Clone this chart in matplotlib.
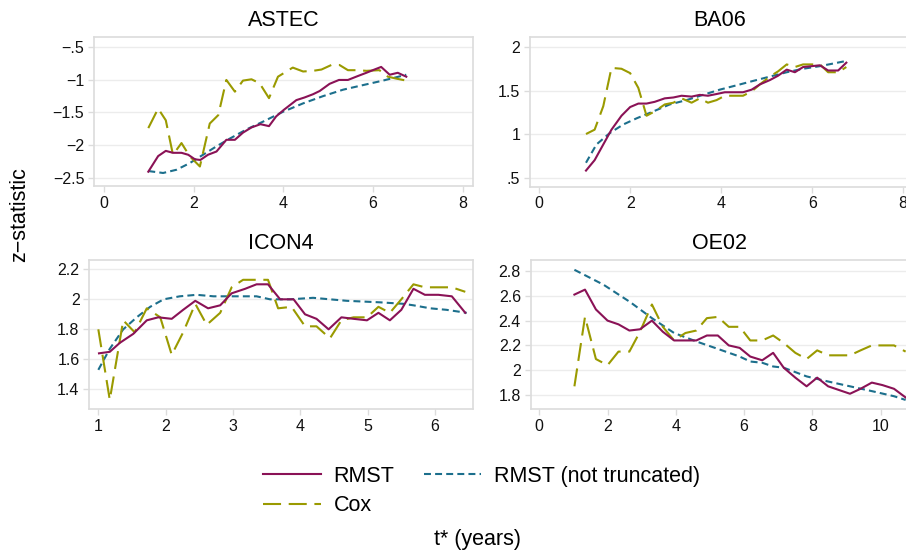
import numpy as np
import matplotlib
matplotlib.use("Agg")
import matplotlib.pyplot as plt
from matplotlib.lines import Line2D

plt.rcParams['font.family'] = ['Liberation Sans', 'DejaVu Sans']
plt.rcParams['lines.scale_dashes'] = False

# cores das series
c_rmst = '#8a1256'
c_cox = '#9a9a00'
c_full = '#1c6f8c'
c_frame = '#dcdcdc'

# ---------------- dados ----------------
# ASTEC
astec_rmst_t = [0.99, 1.21, 1.38, 1.54, 1.73, 1.88, 2.03, 2.15, 2.32, 2.51, 2.73, 2.92, 3.10, 3.29,
                3.49, 3.68, 3.84, 4.01, 4.29, 4.47, 4.66, 4.81, 5.03, 5.24, 5.44, 5.66, 5.85, 6.03,
                6.18, 6.37, 6.55, 6.74]
astec_rmst_z = [-2.41, -2.17, -2.09, -2.12, -2.12, -2.15, -2.22, -2.23, -2.15, -2.10, -1.92, -1.92,
                -1.81, -1.73, -1.68, -1.71, -1.56, -1.46, -1.31, -1.27, -1.22, -1.17, -1.06, -1.00,
                -1.00, -0.94, -0.89, -0.84, -0.80, -0.92, -0.89, -0.95]
astec_cox_t = [0.99, 1.21, 1.38, 1.54, 1.73, 1.91, 2.14, 2.36, 2.55, 2.73, 2.92, 3.10, 3.29, 3.47,
               3.68, 3.88, 4.21, 4.44, 4.66, 4.85, 5.07, 5.25, 5.44, 5.66, 5.85, 6.14, 6.33, 6.52, 6.74]
astec_cox_z = [-1.74, -1.44, -1.62, -2.15, -1.97, -2.17, -2.33, -1.67, -1.54, -1.00, -1.18, -1.01,
               -0.99, -1.05, -1.28, -0.95, -0.81, -0.87, -0.86, -0.84, -0.77, -0.77, -0.85, -0.85,
               -0.86, -0.85, -0.95, -0.98, -1.01]
astec_full_t = [0.99, 1.32, 1.62, 1.91, 2.21, 2.51, 2.81, 3.18, 3.55, 3.99, 4.44, 4.88, 5.33, 5.77,
                6.22, 6.74]
astec_full_z = [-2.40, -2.43, -2.38, -2.28, -2.15, -2.02, -1.90, -1.76, -1.64, -1.49, -1.36, -1.25,
                -1.15, -1.08, -1.01, -0.92]

# BA06
ba06_rmst_t = [1.03, 1.22, 1.41, 1.59, 1.81, 2.00, 2.18, 2.36, 2.54, 2.76, 2.95, 3.13, 3.35, 3.53,
               3.71, 3.90, 4.08, 4.26, 4.48, 4.67, 4.85, 5.07, 5.25, 5.44, 5.62, 5.80, 5.99, 6.17,
               6.35, 6.57, 6.75]
ba06_rmst_z = [0.58, 0.70, 0.88, 1.05, 1.21, 1.31, 1.35, 1.35, 1.37, 1.41, 1.42, 1.44, 1.43, 1.45,
               1.44, 1.46, 1.48, 1.48, 1.48, 1.51, 1.57, 1.62, 1.67, 1.74, 1.71, 1.77, 1.78, 1.79,
               1.73, 1.73, 1.82]
ba06_cox_t = ba06_rmst_t
ba06_cox_z = [1.00, 1.05, 1.32, 1.76, 1.75, 1.70, 1.53, 1.21, 1.26, 1.34, 1.36, 1.41, 1.36, 1.41,
              1.36, 1.39, 1.44, 1.44, 1.44, 1.49, 1.57, 1.66, 1.72, 1.80, 1.77, 1.80, 1.80, 1.80,
              1.71, 1.71, 1.77]
ba06_full_t = [1.03, 1.26, 1.55, 1.85, 2.14, 2.51, 2.87, 3.24, 3.60, 3.97, 4.34, 4.70, 5.07, 5.44,
               5.80, 6.17, 6.75]
ba06_full_z = [0.67, 0.88, 1.01, 1.11, 1.18, 1.26, 1.34, 1.39, 1.45, 1.51, 1.56, 1.61, 1.66, 1.71,
               1.75, 1.78, 1.84]

# ICON4
icon4_rmst_t = [1.01, 1.17, 1.32, 1.52, 1.72, 1.89, 2.09, 2.26, 2.44, 2.63, 2.81, 2.98, 3.18, 3.35,
                3.52, 3.70, 3.90, 4.07, 4.24, 4.42, 4.61, 4.79, 4.99, 5.16, 5.33, 5.50, 5.68, 5.85,
                6.05, 6.25, 6.45]
icon4_rmst_z = [1.64, 1.65, 1.71, 1.77, 1.86, 1.88, 1.87, 1.93, 1.99, 1.94, 1.96, 2.04, 2.07, 2.10,
                2.10, 2.00, 2.00, 1.90, 1.87, 1.80, 1.88, 1.87, 1.86, 1.91, 1.86, 1.93, 2.07, 2.03,
                2.03, 2.02, 1.91]
icon4_cox_t = [1.00, 1.17, 1.37, 1.54, 1.72, 1.92, 2.09, 2.26, 2.44, 2.61, 2.81, 2.98, 3.15, 3.35,
               3.52, 3.67, 3.87, 4.07, 4.24, 4.44, 4.61, 4.79, 4.99, 5.16, 5.33, 5.50, 5.68, 5.85,
               6.05, 6.25, 6.45]
icon4_cox_z = [1.80, 1.33, 1.86, 1.78, 1.94, 1.88, 1.63, 1.78, 1.97, 1.83, 1.91, 2.08, 2.13, 2.13,
               2.13, 1.94, 1.95, 1.82, 1.82, 1.74, 1.86, 1.88, 1.88, 1.95, 1.91, 2.00, 2.10, 2.08,
               2.08, 2.08, 2.05]
icon4_full_t = [1.00, 1.17, 1.37, 1.57, 1.77, 1.97, 2.21, 2.46, 2.71, 2.96, 3.20, 3.35, 3.55, 3.85,
                4.19, 4.69, 5.18, 5.53, 5.68, 5.93, 6.17, 6.47]
icon4_full_z = [1.53, 1.67, 1.80, 1.88, 1.95, 2.00, 2.02, 2.03, 2.02, 2.02, 2.02, 2.02, 2.00, 2.00,
                2.01, 1.99, 1.98, 1.97, 1.96, 1.94, 1.93, 1.91]

# OE02
oe02_rmst_t = [1.03, 1.34, 1.66, 2.00, 2.32, 2.64, 2.95, 3.30, 3.62, 3.95, 4.28, 4.60, 4.91, 5.23,
               5.55, 5.87, 6.18, 6.53, 6.85, 7.16, 7.50, 7.83, 8.14, 8.46, 8.78, 9.10, 9.41, 9.74,
               10.05, 10.39, 10.73]
oe02_rmst_z = [2.61, 2.65, 2.49, 2.40, 2.37, 2.32, 2.33, 2.40, 2.31, 2.24, 2.24, 2.24, 2.28, 2.28,
               2.20, 2.18, 2.11, 2.08, 2.14, 2.02, 1.94, 1.87, 1.94, 1.87, 1.84, 1.81, 1.85, 1.90,
               1.88, 1.85, 1.78]
oe02_cox_t = oe02_rmst_t
oe02_cox_z = [1.87, 2.43, 2.09, 2.04, 2.15, 2.15, 2.31, 2.53, 2.35, 2.24, 2.30, 2.32, 2.42, 2.43,
              2.35, 2.35, 2.24, 2.24, 2.28, 2.22, 2.14, 2.09, 2.16, 2.12, 2.12, 2.12, 2.16, 2.20,
              2.20, 2.20, 2.15]
oe02_full_t = [1.03, 1.88, 2.66, 3.30, 3.95, 4.62, 5.25, 5.87, 6.18, 6.53, 6.85, 7.16, 7.83, 8.44,
               9.10, 9.76, 10.39, 10.73]
oe02_full_z = [2.81, 2.69, 2.55, 2.42, 2.30, 2.23, 2.17, 2.11, 2.07, 2.06, 2.03, 2.02, 1.95, 1.91,
               1.87, 1.83, 1.79, 1.76]

# eixos de cada painel
astec_yticks = [-2.5, -2, -1.5, -1, -0.5]
ba06_yticks = [0.5, 1, 1.5, 2]
icon4_yticks = [1.4, 1.6, 1.8, 2.0, 2.2]
oe02_yticks = [1.8, 2.0, 2.2, 2.4, 2.6, 2.8]
astec_xticks = [0, 2, 4, 6, 8]
ba06_xticks = [0, 2, 4, 6, 8]
icon4_xticks = [1, 2, 3, 4, 5, 6]
oe02_xticks = [0, 2, 4, 6, 8, 10]


def rotulo(v):
    """ formato estilo Stata: sem zero a esquerda """
    s = ('%.1f' % abs(v)).rstrip('0').rstrip('.')
    if s.startswith('0.'):
        s = s[1:]
    return ('\u2212' if v < 0 else '') + s


def painel(ax, titulo, series, xticks, yticks, xlim, ylim):
    (tr, zr), (tc, zc), (tf, zf) = series
    ax.plot(tf, zf, color=c_full, lw=1.5, dashes=(5, 3), zorder=3)
    ax.plot(tc, zc, color=c_cox, lw=1.5, dashes=(13, 5.5), zorder=3)
    ax.plot(tr, zr, color=c_rmst, lw=1.5, zorder=4)

    ax.set_xlim(*xlim)
    ax.set_ylim(*ylim)
    ax.set_xticks(xticks)
    ax.set_xticklabels([rotulo(v) for v in xticks])
    ax.set_yticks(yticks)
    ax.set_yticklabels([rotulo(v) for v in yticks])
    ax.grid(axis='y', color='#ececec', lw=1.0)
    ax.set_axisbelow(True)
    for s in ax.spines.values():
        s.set_color(c_frame)
        s.set_linewidth(1.2)
    ax.tick_params(colors=c_frame, labelcolor='#111111', labelsize=11.5,
                   length=4, width=1, pad=3)
    ax.set_title(titulo, fontsize=15.5, pad=8)


fig = plt.figure(figsize=(9.06, 5.57), dpi=100)

# posicoes em pixels -> fracao da figura
W, H = 906.0, 557.0
ax1 = fig.add_axes([94 / W, 1 - 186 / H, 378.7 / W, 149 / H])
ax2 = fig.add_axes([530 / W, 1 - 186.5 / H, 378.7 / W, 149.5 / H])
ax3 = fig.add_axes([89.3 / W, 1 - 409 / H, 383.4 / W, 149 / H])
ax4 = fig.add_axes([530.7 / W, 1 - 409 / H, 378 / W, 149 / H])

painel(ax1, 'ASTEC',
       [(astec_rmst_t, astec_rmst_z), (astec_cox_t, astec_cox_z), (astec_full_t, astec_full_z)],
       astec_xticks, astec_yticks, (-0.22, 8.22), (-2.63, -0.34))
painel(ax2, 'BA06',
       [(ba06_rmst_t, ba06_rmst_z), (ba06_cox_t, ba06_cox_z), (ba06_full_t, ba06_full_z)],
       ba06_xticks, ba06_yticks, (-0.2, 8.12), (0.397, 2.115))
painel(ax3, 'ICON4',
       [(icon4_rmst_t, icon4_rmst_z), (icon4_cox_t, icon4_cox_z), (icon4_full_t, icon4_full_z)],
       icon4_xticks, icon4_yticks, (0.866, 6.56), (1.269, 2.262))
painel(ax4, 'OE02',
       [(oe02_rmst_t, oe02_rmst_z), (oe02_cox_t, oe02_cox_z), (oe02_full_t, oe02_full_z)],
       oe02_xticks, oe02_yticks, (-0.25, 10.82), (1.687, 2.889))

# legenda
h_rmst = Line2D([], [], color=c_rmst, lw=1.5)
h_cox = Line2D([], [], color=c_cox, lw=1.5, dashes=(13, 5.5))
h_full = Line2D([], [], color=c_full, lw=1.5, dashes=(5, 3))
fig.legend([h_rmst, h_cox, h_full], ['RMST', 'Cox', 'RMST (not truncated)'],
           ncol=2, loc='center', bbox_to_anchor=(482 / W, 1 - 491 / H),
           frameon=False, fontsize=15.5, handlelength=2.65, handletextpad=0.6,
           columnspacing=1.4, labelspacing=0.4, borderpad=0)

fig.text(20 / W, 1 - 215 / H, 'z\u2212statistic', rotation=90, fontsize=15.5,
         ha='center', va='center')
fig.text(477.5 / W, 1 - 540 / H, 't* (years)', fontsize=15.5, ha='center', va='center')

fig.savefig('out.png', dpi=100)
